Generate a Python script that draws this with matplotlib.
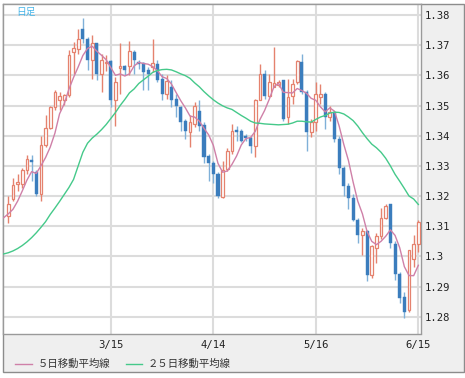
import matplotlib
matplotlib.use('Agg')
import matplotlib.pyplot as plt
from matplotlib.patches import Rectangle
from matplotlib.lines import Line2D
import pandas as pd

# daily candles (oldest first)
opens = [1.3133, 1.3189, 1.3240, 1.3239, 1.3286, 1.3321, 1.3278, 1.3208, 1.3369, 1.3426,
         1.3494, 1.3517, 1.3517, 1.3534, 1.3678, 1.3686, 1.3752, 1.3719, 1.3650, 1.3706,
         1.3606, 1.3642, 1.3648, 1.3519, 1.3625, 1.3630, 1.3630, 1.3678, 1.3644, 1.3641,
         1.3617, 1.3628, 1.3637, 1.3589, 1.3537, 1.3563, 1.3522, 1.3494, 1.3450, 1.3411,
         1.3439, 1.3483, 1.3437, 1.3333, 1.3309, 1.3274, 1.3197, 1.3289, 1.3350, 1.3419,
         1.3414, 1.3400, 1.3392, 1.3367, 1.3519, 1.3606, 1.3533, 1.3561, 1.3569, 1.3583,
         1.3461, 1.3533, 1.3578, 1.3644, 1.3544, 1.3411, 1.3444, 1.3528, 1.3539, 1.3461,
         1.3478, 1.3389, 1.3294, 1.3233, 1.3194, 1.3122, 1.3072, 1.3083, 1.2939, 1.3028,
         1.3067, 1.3128, 1.3172, 1.3042, 1.2942, 1.2864, 1.2822, 1.2992, 1.3042]
highs = [1.3200, 1.3261, 1.3272, 1.3294, 1.3336, 1.3337, 1.3286, 1.3400, 1.3467, 1.3500,
         1.3552, 1.3544, 1.3539, 1.3683, 1.3711, 1.3752, 1.3789, 1.3728, 1.3733, 1.3706,
         1.3672, 1.3667, 1.3650, 1.3594, 1.3706, 1.3633, 1.3714, 1.3683, 1.3650, 1.3644,
         1.3628, 1.3720, 1.3650, 1.3606, 1.3600, 1.3583, 1.3539, 1.3500, 1.3456, 1.3467,
         1.3511, 1.3517, 1.3444, 1.3340, 1.3317, 1.3280, 1.3317, 1.3359, 1.3439, 1.3433,
         1.3422, 1.3406, 1.3400, 1.3522, 1.3639, 1.3617, 1.3606, 1.3694, 1.3583, 1.3583,
         1.3589, 1.3589, 1.3650, 1.3672, 1.3550, 1.3456, 1.3578, 1.3572, 1.3544, 1.3500,
         1.3483, 1.3400, 1.3300, 1.3244, 1.3206, 1.3128, 1.3094, 1.3089, 1.3039, 1.3078,
         1.3161, 1.3172, 1.3175, 1.3050, 1.2948, 1.2883, 1.3022, 1.3070, 1.3120]
lows = [1.3111, 1.3183, 1.3217, 1.3228, 1.3272, 1.3250, 1.3200, 1.3183, 1.3361, 1.3423,
        1.3486, 1.3486, 1.3503, 1.3528, 1.3606, 1.3672, 1.3706, 1.3617, 1.3589, 1.3583,
        1.3544, 1.3614, 1.3494, 1.3433, 1.3539, 1.3600, 1.3600, 1.3606, 1.3622, 1.3550,
        1.3550, 1.3611, 1.3578, 1.3517, 1.3522, 1.3494, 1.3461, 1.3417, 1.3389, 1.3364,
        1.3428, 1.3417, 1.3311, 1.3250, 1.3244, 1.3194, 1.3194, 1.3283, 1.3339, 1.3383,
        1.3378, 1.3383, 1.3344, 1.3328, 1.3517, 1.3522, 1.3528, 1.3560, 1.3560, 1.3450,
        1.3439, 1.3506, 1.3572, 1.3539, 1.3350, 1.3394, 1.3417, 1.3506, 1.3422, 1.3450,
        1.3378, 1.3272, 1.3200, 1.3156, 1.3117, 1.3044, 1.3006, 1.2917, 1.2928, 1.2978,
        1.3056, 1.3125, 1.3028, 1.2922, 1.2845, 1.2797, 1.2815, 1.2964, 1.3014]
closes = [1.3174, 1.3237, 1.3245, 1.3286, 1.3322, 1.3314, 1.3208, 1.3369, 1.3426, 1.3494,
          1.3544, 1.3530, 1.3534, 1.3668, 1.3689, 1.3719, 1.3719, 1.3650, 1.3706, 1.3606,
          1.3652, 1.3645, 1.3519, 1.3578, 1.3630, 1.3617, 1.3681, 1.3650, 1.3637, 1.3611,
          1.3606, 1.3641, 1.3583, 1.3537, 1.3580, 1.3517, 1.3500, 1.3447, 1.3417, 1.3444,
          1.3500, 1.3433, 1.3328, 1.3308, 1.3272, 1.3200, 1.3286, 1.3350, 1.3417, 1.3411,
          1.3383, 1.3392, 1.3367, 1.3519, 1.3606, 1.3533, 1.3578, 1.3574, 1.3578, 1.3456,
          1.3528, 1.3572, 1.3648, 1.3544, 1.3411, 1.3444, 1.3539, 1.3539, 1.3461, 1.3478,
          1.3389, 1.3294, 1.3233, 1.3194, 1.3122, 1.3072, 1.3083, 1.2939, 1.3033, 1.3067,
          1.3128, 1.3167, 1.3044, 1.2942, 1.2862, 1.2814, 1.3020, 1.3042, 1.3114]
# closes of the days before the first visible candle (for the 5-day average)
prior_closes = [1.3109, 1.3162, 1.3110, 1.3116, 1.3143]

# 25-day average (starts one day before the first candle)
ma25 = [1.3008, 1.3012, 1.3018, 1.3026, 1.3036, 1.3048, 1.3062, 1.3078, 1.3096, 1.3115,
        1.3139, 1.3160, 1.3182, 1.3205, 1.3228, 1.3255, 1.3300, 1.3345, 1.3375, 1.3392,
        1.3405, 1.3420, 1.3437, 1.3457, 1.3477, 1.3500, 1.3520, 1.3542, 1.3555, 1.3573,
        1.3585, 1.3597, 1.3610, 1.3616, 1.3619, 1.3620, 1.3618, 1.3612, 1.3605, 1.3599,
        1.3590, 1.3575, 1.3562, 1.3546, 1.3532, 1.3519, 1.3508, 1.3499, 1.3492, 1.3487,
        1.3477, 1.3467, 1.3458, 1.3448, 1.3442, 1.3441, 1.3439, 1.3438, 1.3437, 1.3436,
        1.3437, 1.3438, 1.3442, 1.3448, 1.3448, 1.3446, 1.3445, 1.3454, 1.3462, 1.3467,
        1.3475, 1.3478, 1.3477, 1.3472, 1.3462, 1.3450, 1.3432, 1.3410, 1.3390, 1.3372,
        1.3360, 1.3345, 1.3325, 1.3300, 1.3272, 1.3249, 1.3225, 1.3200, 1.3190, 1.3172]

x_ticks = [22, 44, 66, 88]
x_labels = ['3/15', '4/14', '5/16', '6/15']
y_ticks = [1.28, 1.29, 1.30, 1.31, 1.32, 1.33, 1.34, 1.35, 1.36, 1.37, 1.38]
y_labels = ['1.28', '1.29', '1.3', '1.31', '1.32', '1.33', '1.34', '1.35', '1.36', '1.37', '1.38']

W, H = 465, 378
up_col = '#e5826e'
down_col = '#3b7dbd'
down_wick = '#7fb0d8'

fig = plt.figure(figsize=(W / 100, H / 100), dpi=100)
fig.patch.set_facecolor('white')
fig.add_artist(Rectangle((2.5 / W, 1 - 372 / H), 461 / W, 368.5 / H, transform=fig.transFigure,
                         facecolor='#efefef', edgecolor='#8c8c8c', lw=1, zorder=0))

ax = fig.add_axes([3 / W, 1 - 333.5 / H, 418 / W, 329.5 / H])
ax.set_facecolor('white')
ax.set_xlim(-1.14, 88.57)
ax.set_ylim(1.27443, 1.38365)

n = len(closes)
idx = list(range(n))
for i in idx:
    o, h, l, c = opens[i], highs[i], lows[i], closes[i]
    up = c >= o
    body_lo = min(o, c)
    body_h = max(abs(c - o), 0.00025)
    if up:
        ax.vlines(i, l, h, color=up_col, lw=1, zorder=3)
        ax.bar(i, body_h, bottom=body_lo, width=0.58, facecolor='white',
               edgecolor=up_col, lw=0.9, zorder=4)
    else:
        ax.vlines(i, l, h, color=down_wick, lw=1, zorder=3)
        ax.bar(i, body_h, bottom=body_lo, width=0.66, facecolor=down_col,
               edgecolor=down_col, lw=0.3, zorder=4)

ma5 = pd.Series(prior_closes + closes).rolling(5).mean().dropna().values
ma_x = list(range(-1, n))
ax.plot(ma_x, ma5, color='#cf80a8', lw=1, zorder=5)
ax.plot(ma_x, ma25, color='#45c98a', lw=1, zorder=5)

ax.set_xticks(x_ticks)
ax.set_xticklabels(x_labels)
ax.set_yticks(y_ticks)
ax.set_yticklabels(y_labels)
ax.yaxis.tick_right()
ax.tick_params(axis='both', length=0, labelsize=7.6, colors='#222222')
ax.tick_params(axis='y', pad=2.5)
ax.tick_params(axis='x', pad=4.5)
for lab in ax.get_xticklabels() + ax.get_yticklabels():
    lab.set_family('DejaVu Sans Mono')
ax.grid(True, color='#dcdcdc', lw=1.5)
ax.set_axisbelow(True)
for s in ax.spines.values():
    s.set_color('#9a9a9a')
    s.set_linewidth(1)

ax.text(13 / 418, 1 - 8 / 329.5, '日足', transform=ax.transAxes, ha='left', va='center',
        fontsize=7, color='#45b4e8', family=['Noto Sans CJK JP', 'DejaVu Sans'])

# legend row
ly = 1 - 364 / H
fig.add_artist(Line2D([15 / W, 32 / W], [ly, ly], color='#cf80a8', lw=1, transform=fig.transFigure))
fig.text(38 / W, ly, '５日移動平均線', ha='left', va='center', fontsize=7.5, color='#333333',
         family=['Noto Sans CJK JP', 'DejaVu Sans'])
fig.add_artist(Line2D([126 / W, 142 / W], [ly, ly], color='#45c98a', lw=1, transform=fig.transFigure))
fig.text(148 / W, ly, '２５日移動平均線', ha='left', va='center', fontsize=7.5, color='#333333',
         family=['Noto Sans CJK JP', 'DejaVu Sans'])

fig.savefig('out.png', dpi=100)
